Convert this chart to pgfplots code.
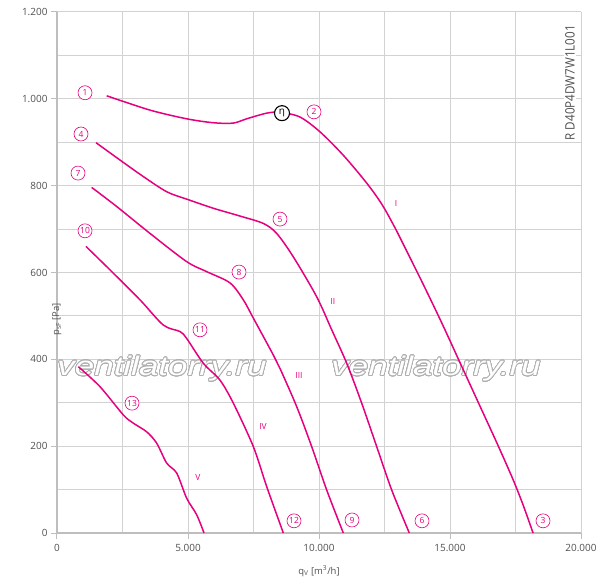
\documentclass[border=0pt]{standalone}
\usepackage{fontspec}
\setmainfont{Open Sans}
\newfontfamily\wmfont{Liberation Sans}
\usepackage{pgfplots}
\pgfplotsset{compat=1.18}
\usepackage{contour}
\contourlength{0.6pt}
\contournumber{32}
\definecolor{mag}{RGB}{230,0,126}
\definecolor{gridc}{RGB}{210,210,210}
\definecolor{axc}{RGB}{190,190,190}
\definecolor{txt}{RGB}{80,80,80}
\definecolor{wm}{RGB}{175,175,175}
\tikzset{
  circ/.style={circle, draw=mag, line width=0.6bp, fill=white, text=mag,
    font=\fontsize{8.5}{8.5}\selectfont, minimum size=14bp, inner sep=0pt},
  rom/.style={text=mag, font=\fontsize{8.5}{8.5}\selectfont, inner sep=0pt},
  curve/.style={mag, line width=1.5bp, smooth, tension=0.5},
}
\begin{document}
\begin{tikzpicture}
\begin{axis}[
  scale only axis, width=524bp, height=521bp,
  xmin=0, xmax=20000, ymin=0, ymax=1200,
  axis x line=bottom, axis y line=left,
  axis line style={-, draw=axc, line width=1.8bp},
  xtick={0,5000,10000,15000,20000},
  minor xtick={2500,7500,12500,17500},
  ytick={0,200,400,600,800,1000,1200},
  minor ytick={100,300,500,700,900,1100},
  scaled x ticks=false, scaled y ticks=false,
  grid=both,
  major grid style={draw=gridc, line width=1bp},
  minor grid style={draw=gridc, line width=1bp},
  tick align=outside,
  major tick length=6bp, minor tick length=0pt,
  tick style={draw=axc, line width=1bp},
  /pgf/number format/assume math mode=true,
  /pgf/number format/1000 sep={.},
  ticklabel style={font=\fontsize{10}{10}\selectfont, text=txt},
  xticklabel style={yshift=-2bp},
  xlabel={q\textsubscript{V} [m\textsuperscript{3}/h]},
  ylabel={p\textsubscript{sF} [Pa]},
  label style={font=\fontsize{9.5}{10}\selectfont, text=txt},
  xlabel style={at={(axis description cs:0.5,0)}, anchor=center, yshift=-38bp},
  ylabel style={at={(axis description cs:0,0.5)}, anchor=center, xshift=-47bp},
  clip=false,
]
% watermark
\node[font=\wmfont\itshape\fontsize{27}{27}\selectfont, text=white] at (axis cs:4008,378)
  {\scalebox{1.3}[1]{\contour{wm}{ventilatorry.ru}}};
\node[font=\wmfont\itshape\fontsize{27}{27}\selectfont, text=white] at (axis cs:14466,378)
  {\scalebox{1.3}[1]{\contour{wm}{ventilatorry.ru}}};

% Curve I (1-2-3)
\addplot[curve, no markers] coordinates {
(1897,1007) (3550,974) (4950,954) (5954,945) (6718,944) (7240,954) (8004,967)
(8511,969) (9275,958) (10038,924) (10928,870) (11820,806) (12400,757)
(12900,703) (13400,643) (14000,570) (14700,482) (15400,390) (16100,298) (16800,206)
(17400,124) (17800,63) (18170,0)};
% Curve II (4-5-6)
\addplot[curve, no markers] coordinates {
(1489,899) (2405,859) (3294,821) (4187,786) (4950,769) (5966,748) (6985,730)
(7875,713) (8385,690) (9020,636) (9912,544) (10485,468) (11057,391) (11630,299)
(12202,199) (12775,99) (13447,0)};
% Curve III (7-8-9)
\addplot[curve, no markers] coordinates {
(1323,796) (2278,752) (3550,690) (4950,625) (5713,602) (6603,576) (7111,537)
(7493,495) (8256,410) (8511,379) (9149,291) (9721,199) (10294,99) (10928,0)};
% Curve IV (10-11-12)
\addplot[curve, no markers] coordinates {
(1107,660) (2023,606) (3168,537) (4057,479) (4695,464) (4950,448) (5585,391)
(6221,352) (6730,299) (7493,199) (8003,107) (8638,0)};
% Curve V (13)
\addplot[curve, no markers] coordinates {
(814,383) (1641,337) (2531,272) (2913,253) (3424,233) (3804,207) (4187,161)
(4569,138) (4950,80) (5331,42) (5611,0)};

% circled labels
\node[circ] at (axis cs:1069,1014) {1};
\node[circ] at (axis cs:9809,970) {2};
\node[circ] at (axis cs:18550,28) {3};
\node[circ] at (axis cs:916,919) {4};
\node[circ] at (axis cs:8511,723) {5};
\node[circ] at (axis cs:13931,28) {6};
\node[circ] at (axis cs:802,829) {7};
\node[circ] at (axis cs:6947,601) {8};
\node[circ] at (axis cs:11260,30) {9};
\node[circ] at (axis cs:1069,696) {10};
\node[circ] at (axis cs:5458,468) {11};
\node[circ] at (axis cs:9046,28) {12};
\node[circ] at (axis cs:2863,299) {13};
\node[circle, draw=black, line width=1.1bp, fill=white, minimum size=15bp, inner sep=0pt,
  font=\fontsize{10}{10}\selectfont] at (axis cs:8588,967) {η};

% roman labels
\node[rom] at (axis cs:12939,758) {I};
\node[rom] at (axis cs:10534,534) {II};
\node[rom] at (axis cs:9236,362) {III};
\node[rom] at (axis cs:7862,246) {IV};
\node[rom] at (axis cs:5382,129) {V};

% model code
\node[rotate=90, fill=white, inner sep=1bp, text=txt, font=\fontsize{13}{13}\selectfont]
  at (axis cs:19580,1037) {\scalebox{0.9}[1]{R D40P4DW7W1L001}};
\end{axis}
\pgfresetboundingbox
\path[use as bounding box] (-57bp,-46bp) rectangle (543bp,533bp);
\end{tikzpicture}
\end{document}
